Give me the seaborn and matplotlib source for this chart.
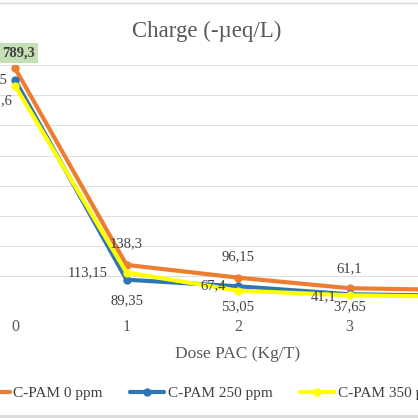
import pandas as pd
import seaborn as sns
import matplotlib.pyplot as plt
from matplotlib.patches import Rectangle
from matplotlib.lines import Line2D

sns.set_style("white")
plt.rcParams["font.family"] = ["Liberation Serif", "DejaVu Serif"]

# data
dose = [0, 1, 2, 3, 4]
series = ["C-PAM 0 ppm", "C-PAM 250 ppm", "C-PAM 350 ppm"]
cpam_0 = [789.3, 138.3, 96.15, 61.1, 55.0]
cpam_250 = [750.5, 89.35, 67.4, 41.1, 36.0]
cpam_350 = [731.6, 113.15, 53.05, 37.65, 33.0]
yticks = [0, 100, 200, 300, 400, 500, 600, 700, 800]

colors = ["#ED7D31", "#2E75B6", "#FFFF00"]

df = pd.DataFrame({
    "dose": dose * 3,
    "charge": cpam_0 + cpam_250 + cpam_350,
    "series": [s for s in series for _ in dose],
})

fig = plt.figure(figsize=(4.18, 4.18), dpi=100, facecolor="w")
# plot area is wider than the (cropped) picture
ax = fig.add_axes([-0.0308, 0.2663, 1.2004, 0.5782])

sns.lineplot(data=df, x="dose", y="charge", hue="series", hue_order=series,
             palette=colors, marker="o", markersize=6, markeredgewidth=0,
             linewidth=3, ax=ax)

ax.set_xlim(-0.25, 4.25)
ax.set_ylim(0, 800)
ax.set_xticks(dose)
ax.set_yticks(yticks)
ax.grid(axis="y", color="#dedede", linewidth=0.7)
ax.grid(axis="x", visible=False)
ax.set_axisbelow(True)
for s in ax.spines.values():
    s.set_visible(False)
ax.tick_params(axis="both", length=0, labelsize=11.5, colors="#595959", pad=9)
ax.set_ylabel("")
ax.set_xlabel("Dose PAC (Kg/T)", fontsize=12.5, color="#595959", labelpad=8)

fig.text(207 / 418, 1 - 31 / 418, "Charge (-µeq/L)", fontsize=16.5,
         color="#595959", ha="center", va="center")

# data labels: (dx, dy, ha) in pixels
place = {
    0: [(3, 15, "center"), (0, 21, "center"), (0, 21, "center"), (0, 20, "center"), (0, 20, "center")],
    1: [(-8, 0, "right"), (0, -21, "center"), (-12, 1, "right"), (-13, -2, "right"), (-13, -2, "right")],
    2: [(-3, -15, "right"), (-19, 0, "right"), (0, -16, "center"), (0, -11, "center"), (0, -11, "center")],
}
for i, vals in enumerate([cpam_0, cpam_250, cpam_350]):
    for j, (x, v) in enumerate(zip(dose, vals)):
        dx, dy, ha = place[i][j]
        txt = f"{v:g}".replace(".", ",")
        kw = {}
        if i == 0 and j == 0:
            kw = dict(fontweight="bold",
                      bbox=dict(boxstyle="square,pad=0.25", fc="#c5e0b4", ec="none"))
        ax.annotate(txt, (x, v), xytext=(dx, dy), textcoords="offset pixels",
                    ha=ha, va="center", fontsize=10.5, color="#404040",
                    annotation_clip=False, **kw)

handles, labels = ax.get_legend_handles_labels()
ax.legend_.remove()
fig.legend(handles, labels, loc="center left", bbox_to_anchor=(-24 / 418, 1 - 393 / 418),
           ncol=3, frameon=False, fontsize=11, handlelength=2.2, handletextpad=0.25,
           columnspacing=1.8, borderpad=0, borderaxespad=0, labelcolor="#404040")

# chart border pieces visible in the crop
fig.add_artist(Line2D([0, 1], [1 - 3 / 418] * 2, color="#d9d9d9", lw=1,
                      transform=fig.transFigure))
fig.add_artist(Rectangle((0, 0), 1, 3 / 418, transform=fig.transFigure,
                         fc="#dcdcdc", ec="none"))

fig.savefig("out.png", dpi=100)
